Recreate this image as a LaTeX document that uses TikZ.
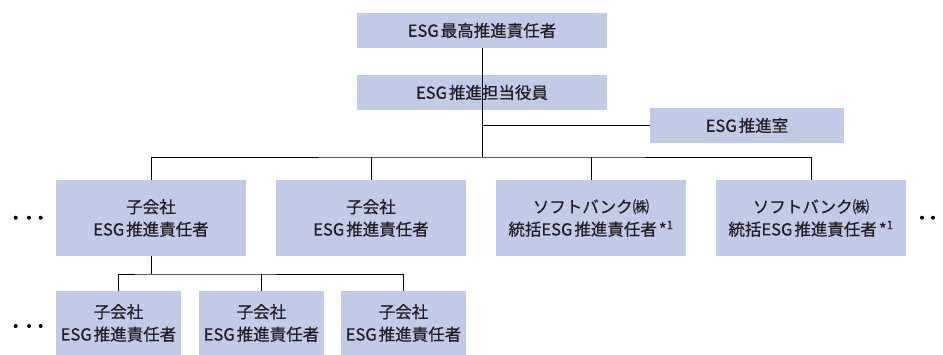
\documentclass[tikz,border=0pt]{standalone}
\usepackage{fontspec}
\setmainfont{Noto Sans CJK JP}[FakeBold=0.6]
\newcommand{\esg}{ESG\kern2pt}
\begin{document}
\begin{tikzpicture}[x=1pt,y=-1pt,
  box/.style={fill=boxblue,draw=none,inner sep=0pt,align=center,text=textdark,
    font=\fontsize{16.5}{22.5}\selectfont},
  wide/.style={box,minimum width=250pt,minimum height=35pt},
  mid/.style={box,minimum width=190pt,minimum height=76pt},
  low/.style={box,minimum width=125pt,minimum height=64pt},
  link/.style={draw=black,line width=0.9pt},
  dot/.style={fill=black}]
\definecolor{boxblue}{RGB}{193,203,232}
\definecolor{textdark}{RGB}{35,30,31}
\useasboundingbox (0,0) rectangle (943,355);
\node[wide] (top) at (482,30.5) {\esg 最高推進責任者};
\node[wide] (tantou) at (482,92.5) {\esg 推進担当役員};
\node[box,minimum width=194pt,minimum height=35pt] (shitsu) at (747,125.5) {\esg 推進室};
\node[mid] (m1) at (151,218) {子会社\\\esg 推進責任者};
\node[mid] (m2) at (371,218) {子会社\\\esg 推進責任者};
\node[mid] (m3) at (591,218) {ソフトバンク㈱\\統括\esg 推進責任者\kern2pt*\textsuperscript{1}};
\node[mid] (m4) at (811,218) {ソフトバンク㈱\\統括\esg 推進責任者\kern2pt*\textsuperscript{1}};
\node[low] (b1) at (118.5,323) {子会社\\\esg 推進責任者};
\node[low] (b2) at (261.5,323) {子会社\\\esg 推進責任者};
\node[low] (b3) at (403.5,323) {子会社\\\esg 推進責任者};
\coordinate (bus) at (482,157);
\coordinate (bbus) at (151,274);
\draw[link] (top.south) -- (tantou.south);
\draw[link] (tantou.south) -- (bus);
\draw[link] (tantou.south |- shitsu.west) -- (shitsu.west);
\draw[link] (m1.north) |- (bus) -| (m4.north);
\draw[link] (m2.north) -- (m2.north |- bus);
\draw[link] (m3.north) -- (m3.north |- bus);
\draw[link] (m1.south) -- (bbus);
\draw[link] (b1.north) |- (bbus) -| (b3.north);
\draw[link] (b2.north) -- (b2.north |- bbus);
\foreach \x in {15.7,29,40.7} {
  \fill[dot] (\x,217.7) circle (2);
  \fill[dot] (\x,326) circle (2);
}
\foreach \x in {922,933} \fill[dot] (\x,217.7) circle (2);
\end{tikzpicture}
\end{document}
